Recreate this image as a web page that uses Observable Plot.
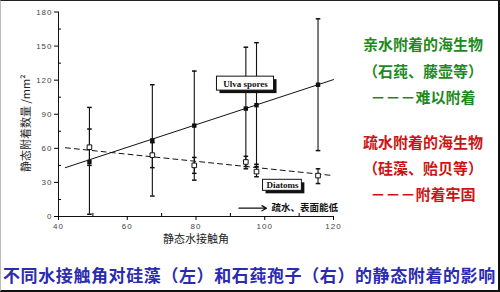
<!DOCTYPE html>
<html>
<head>
<meta charset="utf-8">
<script src="https://cdn.jsdelivr.net/npm/d3@7"></script>
<script src="https://cdn.jsdelivr.net/npm/@observablehq/plot@0.6"></script>
<style>
  html, body { margin: 0; padding: 0; background: #fff; }
  #page {
    position: relative; width: 500px; height: 292px; box-sizing: border-box;
    border-top: 1px solid #222; border-left: 1px solid #bbb;
    border-right: 2px solid #111; border-bottom: 2px solid #111;
    overflow: hidden; background: #fff;
    font-family: "Noto Sans CJK SC", "Noto Sans", sans-serif;
  }
  #chart { position: absolute; left: -1px; top: -1px; }
  .note { position: absolute; left: 352px; width: 140px; text-align: center;
    font-size: 15px; font-weight: bold; line-height: 15px; white-space: nowrap; }
  .green { color: #1e8a1e; }
  .red { color: #cc1414; }
  #caption { position: absolute; left: 2px; top: 265px; width: 500px; letter-spacing: 0.6px;
    font-size: 17px; line-height: 17px; font-weight: bold; color: #2b2bb0; white-space: nowrap; }
  #chart svg g[aria-label="y-axis tick label"] text,
  #chart svg g[aria-label="x-axis tick label"] text { letter-spacing: 1px; }
</style>
</head>
<body>
<div id="page">
  <div id="chart"></div>
  <div class="note green" style="top:35px">亲水附着的海生物</div>
  <div class="note green" style="top:62px">（石莼、藤壶等）</div>
  <div class="note green" style="top:88px">－－－难以附着</div>
  <div class="note red" style="top:133px">疏水附着的海生物</div>
  <div class="note red" style="top:159px">（硅藻、贻贝等）</div>
  <div class="note red" style="top:185px">－－－附着牢固</div>
  <div id="caption">不同水接触角对硅藻（左）和石莼孢子（右）的静态附着的影响</div>
</div>
<script>
// ---- data ----
const angles      = [49, 67.3, 79.5, 94.5, 97.6, 115.5];
const ulvaMean    = [48, 67, 80, 95, 98, 116];
const ulvaLow     = [2, 18, 32, 42, 44, 58];
const ulvaHigh    = [96, 116, 128, 149, 153, 174];
const diatomMean  = [61, 54, 45, 48, 39.5, 36];
const diatomLow   = [45, 43, 38, 44, 35, 29];
const diatomHigh  = [77, 65, 52, 53, 46, 42];

const fitAngles   = [42, 120];
const ulvaFit     = [43, 120.5];
const diatomFit   = [60.5, 36];

const xTicks      = [40, 60, 80, 100, 120];
const xMinorTicks = [50, 70, 90, 110];
const yTicks      = [0, 30, 60, 90, 120, 150, 180];
const yMinorTicks = [15, 45, 75, 105, 135, 165];

const xLabel = "静态水接触角";
const yLabel = "静态附着数量 /mm²";

// annotation labels (text, box extents in data units)
const boxLabels = ["Ulva spores", "Diatoms"];
const boxX1 = [86.1, 99.5];
const boxX2 = [102.7, 110.8];
const boxY1 = [110.8, 22.6];
const boxY2 = [123.1, 32.3];
const arrowText = ["疏水、表面能低"];
const arrowX1 = [92.5];
const arrowX2 = [100.5];
const arrowY = [7.3];

// ---- tables ----
const pts = angles.map((a, i) => ({
  a, um: ulvaMean[i], ul: ulvaLow[i], uh: ulvaHigh[i],
  dm: diatomMean[i], dl: diatomLow[i], dh: diatomHigh[i]
}));
const fit = fitAngles.map((a, i) => ({a, u: ulvaFit[i], d: diatomFit[i]}));
const boxes = boxLabels.map((t, i) => ({
  t, x1: boxX1[i], x2: boxX2[i], y1: boxY1[i], y2: boxY2[i],
  cx: (boxX1[i] + boxX2[i]) / 2, cy: (boxY1[i] + boxY2[i]) / 2
}));
const arrows = arrowText.map((t, i) => ({t, x1: arrowX1[i], x2: arrowX2[i], y: arrowY[i]}));

const cap = {draw(ctx, size) { const r = Math.sqrt(size) / 2; ctx.moveTo(-r, 0); ctx.lineTo(r, 0); }};

const chart = Plot.plot({
  width: 345,
  height: 250,
  marginLeft: 58,
  marginRight: 12,
  marginTop: 11.5,
  marginBottom: 34,
  style: {fontFamily: "Liberation Sans, Arial, sans-serif", background: "transparent", overflow: "visible"},
  x: {domain: [40, 120]},
  y: {domain: [0, 180]},
  marks: [
    // axes
    Plot.ruleX([40], {y1: 0, y2: 180, stroke: "#111"}),
    Plot.ruleY([0], {x1: 40, x2: 120, stroke: "#111"}),
    Plot.axisY(yTicks, {tickSize: 4, tickPadding: 2, fontSize: 8, fill: "#444", label: null}),
    Plot.axisY(yMinorTicks, {tickSize: -3, tickFormat: () => "", label: null}),
    Plot.axisX(xTicks, {tickSize: 4, tickPadding: 3, fontSize: 8, fill: "#444", label: null}),
    Plot.axisX(xMinorTicks, {tickSize: -3, tickFormat: () => "", label: null}),
    Plot.text([yLabel], {frameAnchor: "left", rotate: -90, dx: -32, dy: 9, textAnchor: "middle", lineAnchor: "middle",
      fontSize: 11, fill: "#222", fontFamily: "Noto Sans CJK SC"}),
    Plot.text([xLabel], {frameAnchor: "bottom", dy: 23, textAnchor: "middle", lineAnchor: "middle",
      fontSize: 11, fill: "#222", fontFamily: "Noto Sans CJK SC"}),
    // fit lines
    Plot.line(fit, {x: "a", y: "u", stroke: "#111", strokeWidth: 1}),
    Plot.line(fit, {x: "a", y: "d", stroke: "#111", strokeWidth: 1, strokeDasharray: "5,4"}),
    // error bars
    Plot.ruleX(pts, {x: "a", y1: "ul", y2: "uh", stroke: "#111", strokeWidth: 1.1}),
    Plot.dot(pts, {x: "a", y: "ul", symbol: cap, r: 2.6, stroke: "#111"}),
    Plot.dot(pts, {x: "a", y: "uh", symbol: cap, r: 2.6, stroke: "#111"}),
    Plot.ruleX(pts, {x: "a", y1: "dl", y2: "dh", stroke: "#111", strokeWidth: 1.1}),
    Plot.dot(pts, {x: "a", y: "dl", symbol: cap, r: 2.6, stroke: "#111"}),
    Plot.dot(pts, {x: "a", y: "dh", symbol: cap, r: 2.6, stroke: "#111"}),
    // points
    Plot.dot(pts, {x: "a", y: "um", symbol: "square", r: 2.5, fill: "#111", stroke: "none"}),
    Plot.dot(pts, {x: "a", y: "dm", symbol: "square", r: 2.6, fill: "#fff", stroke: "#111", strokeWidth: 1}),
    // label boxes
    Plot.rect(boxes, {x1: "x1", x2: "x2", y1: "y1", y2: "y2", fill: "#111", dx: 3, dy: 3}),
    Plot.rect(boxes, {x1: "x1", x2: "x2", y1: "y1", y2: "y2", fill: "#fff", stroke: "#111", strokeWidth: 1}),
    Plot.text(boxes, {x: "cx", y: "cy", text: "t", fontFamily: "Liberation Serif, Times New Roman, serif",
      fontWeight: "bold", fontSize: 9, fill: "#111"}),
    // arrow annotation
    Plot.arrow(arrows, {x1: "x1", x2: "x2", y1: "y", y2: "y", stroke: "#111", strokeWidth: 1.3, headLength: 6}),
    Plot.text(arrows, {x: "x2", y: "y", text: "t", textAnchor: "start", dx: 5, fontSize: 9.5, fontWeight: "bold",
      fill: "#111", fontFamily: "Noto Sans CJK SC"})
  ]
});
document.getElementById("chart").appendChild(chart);
</script>
</body>
</html>
